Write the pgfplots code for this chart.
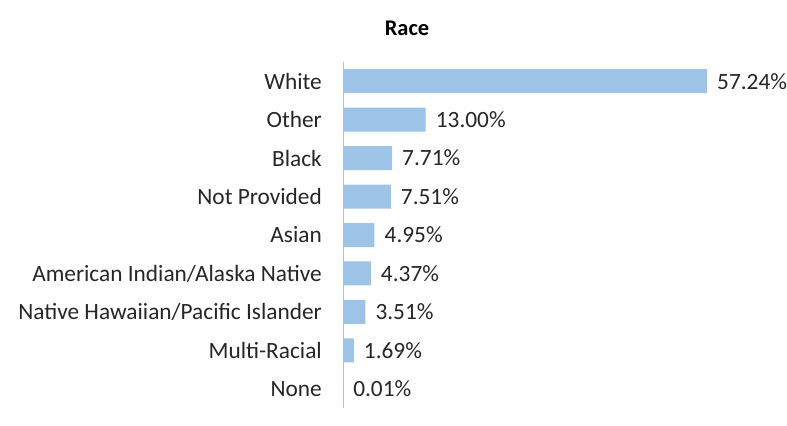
\documentclass[border=0pt]{standalone}
\usepackage{pgfplots}
\pgfplotsset{compat=1.18}
\usepackage{fontspec}
\setmainfont{Carlito}
\definecolor{barblue}{HTML}{9DC3E6}
\definecolor{txt}{HTML}{262626}
\definecolor{axgray}{HTML}{BFBFBF}
\begin{document}
\begin{tikzpicture}[x=1bp,y=1bp]
\useasboundingbox (0,0) rectangle (787,425);
\node[font=\fontsize{22.5}{26}\selectfont\bfseries, text=black] at (407,397) {Race};
\begin{axis}[
  at={(343bp,17bp)}, anchor=south west,
  scale only axis, width=400bp, height=346bp,
  xmin=0, xmax=62.9, ymin=-0.5, ymax=8.5,
  y dir=reverse,
  axis x line=none,
  axis y line*=left,
  y axis line style={draw=axgray, line width=1bp, -},
  ytick={0,...,8},
  yticklabels={White,Other,Black,Not Provided,Asian,American Indian/Alaska Native,Native Hawaiian/Pacific Islander,Multi-Racial,None},
  major tick length=0pt,
  yticklabel style={font=\fontsize{23.4}{27}\selectfont, text=txt, inner sep=0pt, xshift=-21bp},
  xbar, bar width=24bp, bar shift=0pt,
  nodes near coords={\pgfplotspointmeta\%},
  nodes near coords style={font=\fontsize{23.4}{27}\selectfont, text=txt, anchor=west, inner sep=0pt, xshift=10bp},
  point meta=explicit symbolic,
  clip=false,
]
\addplot[fill=barblue, draw=none] coordinates {
(57.24,0) [57.24]
(13.00,1) [13.00]
(7.71,2) [7.71]
(7.51,3) [7.51]
(4.95,4) [4.95]
(4.37,5) [4.37]
(3.51,6) [3.51]
(1.69,7) [1.69]
(0.01,8) [0.01]
};
\end{axis}
\end{tikzpicture}
\end{document}
